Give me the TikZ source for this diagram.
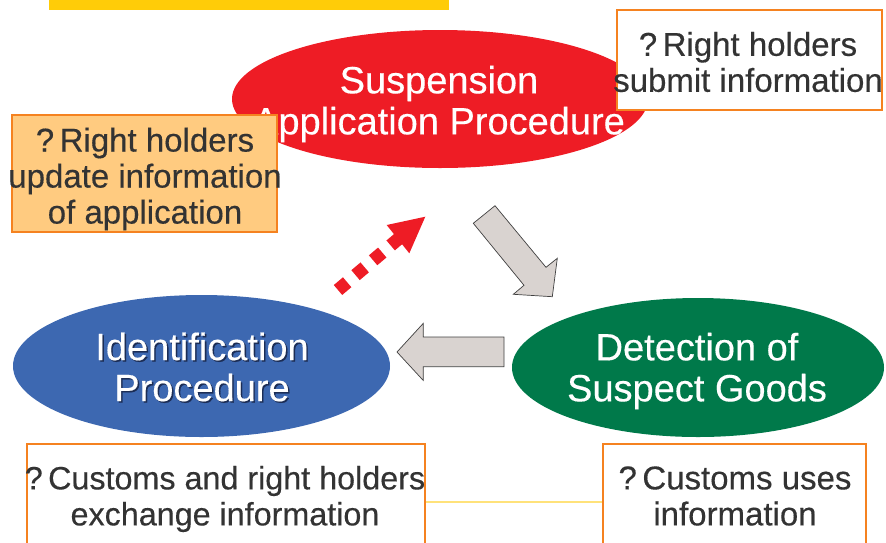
\documentclass[tikz,border=0pt]{standalone}
\usepackage{fontspec}
\setmainfont{Liberation Sans}
\newfontfamily\heavyfont{Liberation Sans}[FakeBold=0.35]
\usetikzlibrary{shapes.geometric}
\definecolor{cred}{HTML}{EE1C25}
\definecolor{cblue}{HTML}{3D68B1}
\definecolor{cgreen}{HTML}{00794A}
\definecolor{corange}{HTML}{F58220}
\definecolor{cfill}{HTML}{FFCB80}
\definecolor{cgray}{HTML}{D9D3D0}
\definecolor{cyellow}{HTML}{FFCC08}
\definecolor{cline}{HTML}{FFE27A}
\definecolor{ctext}{HTML}{333333}
\definecolor{cshadow}{HTML}{1C2D55}
\tikzset{
  proc/.style={ellipse, inner sep=0pt, draw=none},
  etext/.style={text=white, align=center, inner sep=0pt, font=\heavyfont\fontsize{38}{41}\selectfont},
  infobox/.style={draw=corange, line width=1.6pt},
  btext/.style={text=ctext, align=center, inner sep=0pt, font=\heavyfont\fontsize{33}{36}\selectfont},
  blockarrow/.style={fill=cgray, draw=black!75, line width=0.7pt, line join=miter},
}
\begin{document}
\begin{tikzpicture}[x=1pt,y=-1pt]
\useasboundingbox (0,0) rectangle (886,542);
\clip (0,0) rectangle (886,542);
% yellow bar
\fill[cyellow] (49,0) rectangle (449,10);
% ellipses
\node[proc, fill=cred, minimum width=416pt, minimum height=138pt] (susp) at (440,99) {};
\node[proc, fill=cblue, minimum width=377pt, minimum height=142pt] (ident) at (201.5,366) {};
\node[proc, fill=cgreen, minimum width=372pt, minimum height=139pt] (detect) at (698,367.5) {};
% ellipse texts
\node[etext] (suspT) at (439,104) {Suspension\\Application Procedure};
\node[etext, text=cshadow] at (203.5,368.5) {Identification\\Procedure};
\node[etext] (identT) at (202,367) {Identification\\Procedure};
\node[etext] (detectT) at (697,371) {Detection of\\Suspect Goods};
% boxes
\draw[infobox, fill=white] (617,10) rectangle (882,110);
\node[btext] (boxTR) at (748,62) {?\,Right holders\\submit information};
\draw[infobox, fill=cfill] (12,115) rectangle (277,232);
\node[btext] (boxL) at (145,179) {?\,Right holders\\update information\\of application};
\draw[infobox] (27,444) rectangle (425,560);
\draw[infobox] (603,444) rectangle (866,560);
\coordinate (lineA) at (426,502);
\coordinate (lineB) at (602,502);
\draw[cline, line width=1.5pt] (lineA) -- (lineB);
\node[btext, font=\heavyfont\fontsize{32.3}{36}\selectfont] (boxBL) at (225,499) {?\,Customs and right holders\\exchange information};
\node[btext] (boxBR) at (735,496) {?\,Customs uses\\information};
% gray block arrows
\draw[blockarrow] (473.3,223.3) -- (495,205.7) -- (546,267.3) -- (557.3,258.3) -- (552.3,296.7) -- (513.3,294.3) -- (524,285.3) -- cycle;
\draw[blockarrow] (397,352) -- (423.3,323.3) -- (423.3,337) -- (504,337) -- (504,366.7) -- (423.3,366.7) -- (423.3,380.5) -- cycle;
% red dotted arrow
\coordinate (dA) at (338,290);
\coordinate (dB) at (400,237.5);
\draw[cred, line width=13pt, dash pattern=on 12pt off 11pt] (dA) -- (dB);
\fill[cred] (386.7,225) -- (425.3,216.7) -- (409.3,253.3) -- cycle;
\end{tikzpicture}
\end{document}
